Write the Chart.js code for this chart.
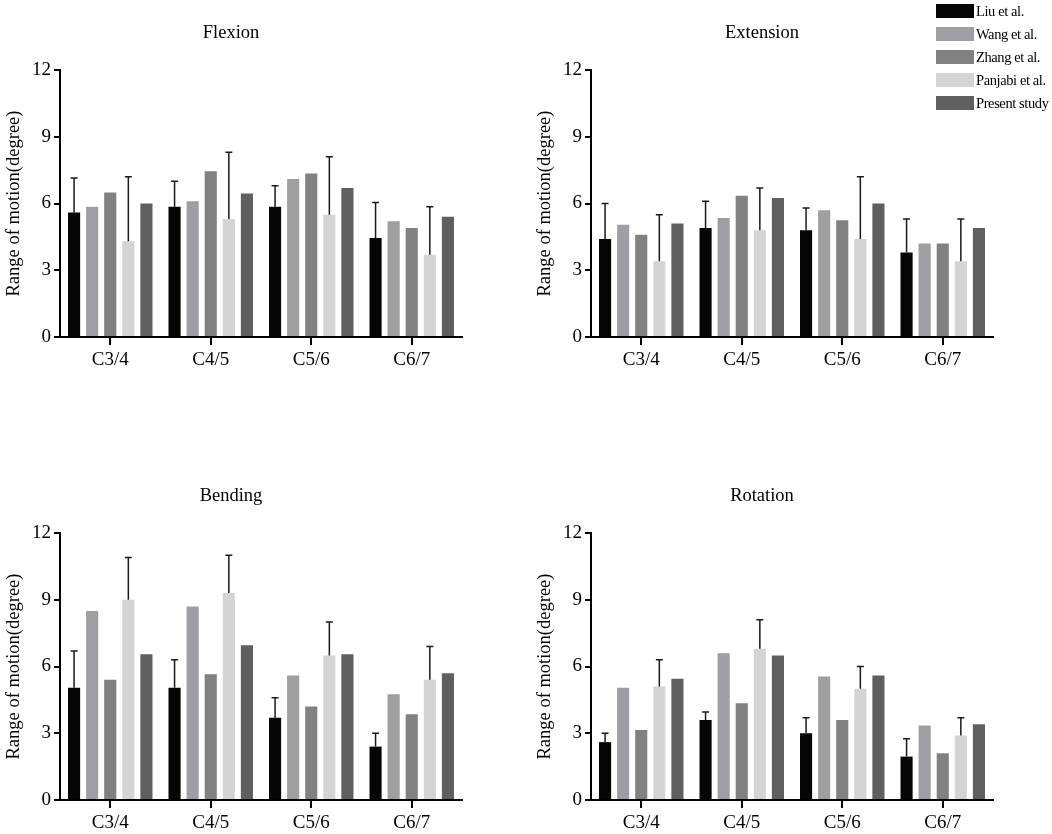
<!DOCTYPE html>
<html>
<head>
<meta charset="utf-8">
<script src="https://cdn.jsdelivr.net/npm/chart.js@4.4.1/dist/chart.umd.min.js"></script>
<style>
    body { margin: 0; background: #fff; width: 1052px; height: 834px; position: relative; overflow: hidden; }
    .panel { position: absolute; width: 472px; height: 372px; }
    #legend { position: absolute; left: 936px; top: 4px; font-family: "Liberation Serif", serif; font-size: 14.5px; letter-spacing: -0.4px; color: #000; white-space: nowrap; }
    .row { height: 23px; display: flex; align-items: flex-start; }
    .box { width: 38px; height: 14px; margin-right: 2px; flex: none; }
    .row span { line-height: 14px; }
</style>
</head>
<body>
<div class="panel" style="left:0;top:0"><canvas id="flexion"></canvas></div>
<div class="panel" style="left:531px;top:0"><canvas id="extension"></canvas></div>
<div class="panel" style="left:0;top:463px"><canvas id="bending"></canvas></div>
<div class="panel" style="left:531px;top:463px"><canvas id="rotation"></canvas></div>
<div id="legend"></div>
<script>
const levels = ["C3/4", "C4/5", "C5/6", "C6/7"];
const studies = ["Liu et al.", "Wang et al.", "Zhang et al.", "Panjabi et al.", "Present study"];
const colors = ["#050505", "#9f9fa3", "#818181", "#d4d4d4", "#5f5f5f"];
const yTicks = [0, 3, 6, 9, 12];

// values per study, order: C3/4, C4/5, C5/6, C6/7
const flexionLiu = [5.6, 5.85, 5.85, 4.45];
const flexionWang = [5.85, 6.1, 7.1, 5.2];
const flexionZhang = [6.5, 7.45, 7.35, 4.9];
const flexionPanjabi = [4.3, 5.3, 5.5, 3.7];
const flexionPresent = [6.0, 6.45, 6.7, 5.4];
const flexionLiuSd = [1.55, 1.15, 0.95, 1.6];
const flexionPanjabiSd = [2.9, 3.0, 2.6, 2.15];

const extensionLiu = [4.4, 4.9, 4.8, 3.8];
const extensionWang = [5.05, 5.35, 5.7, 4.2];
const extensionZhang = [4.6, 6.35, 5.25, 4.2];
const extensionPanjabi = [3.4, 4.8, 4.4, 3.4];
const extensionPresent = [5.1, 6.25, 6.0, 4.9];
const extensionLiuSd = [1.6, 1.2, 1.0, 1.5];
const extensionPanjabiSd = [2.1, 1.9, 2.8, 1.9];

const bendingLiu = [5.05, 5.05, 3.7, 2.4];
const bendingWang = [8.5, 8.7, 5.6, 4.75];
const bendingZhang = [5.4, 5.65, 4.2, 3.85];
const bendingPanjabi = [9.0, 9.3, 6.5, 5.4];
const bendingPresent = [6.55, 6.95, 6.55, 5.7];
const bendingLiuSd = [1.65, 1.25, 0.9, 0.6];
const bendingPanjabiSd = [1.9, 1.7, 1.5, 1.5];

const rotationLiu = [2.6, 3.6, 3.0, 1.95];
const rotationWang = [5.05, 6.6, 5.55, 3.35];
const rotationZhang = [3.15, 4.35, 3.6, 2.1];
const rotationPanjabi = [5.1, 6.8, 5.0, 2.9];
const rotationPresent = [5.45, 6.5, 5.6, 3.4];
const rotationLiuSd = [0.4, 0.35, 0.7, 0.8];
const rotationPanjabiSd = [1.2, 1.3, 1.0, 0.8];

const serif = "'Liberation Serif', 'Times New Roman', serif";

// upward-only error bars (mean + SD), like the GraphPad original
const errorBars = {
    id: "errorBars",
    afterDatasetsDraw: function (chart) {
        const ctx = chart.ctx;
        const y = chart.scales.y;
        chart.data.datasets.forEach(function (ds, i) {
            if (!ds.sd) {
                return;
            }
            chart.getDatasetMeta(i).data.forEach(function (bar, j) {
                const top = y.getPixelForValue(ds.data[j] + ds.sd[j]);
                ctx.save();
                ctx.strokeStyle = "#1a1a1a";
                ctx.lineWidth = 1.5;
                ctx.beginPath();
                ctx.moveTo(bar.x, bar.y);
                ctx.lineTo(bar.x, top);
                ctx.moveTo(bar.x - 3.5, top);
                ctx.lineTo(bar.x + 3.5, top);
                ctx.stroke();
                ctx.restore();
            });
        });
    }
};

function renderPanel(canvasId, title, series, liuSd, panjabiSd) {
    const datasets = series.map(function (values, i) {
        return {
            label: studies[i],
            data: values,
            backgroundColor: colors[i],
            borderWidth: 0,
            barPercentage: 0.67,
            categoryPercentage: 0.9,
            sd: i === 0 ? liuSd : (i === 3 ? panjabiSd : null)
        };
    });

    new Chart(document.getElementById(canvasId), {
        type: "bar",
        data: { labels: levels, datasets: datasets },
        plugins: [errorBars],
        options: {
            responsive: true,
            maintainAspectRatio: false,
            animation: false,
            layout: { padding: { top: 0, left: 0, right: 10, bottom: 0 } },
            plugins: {
                legend: { display: false },
                tooltip: { enabled: false },
                title: {
                    display: true,
                    text: title,
                    color: "#000",
                    font: { family: serif, size: 18.5, weight: "normal" },
                    padding: { top: 22, bottom: 25.8 }
                }
            },
            scales: {
                x: {
                    afterFit: function (scale) { scale.height = 35; },
                    border: { color: "#000", width: 2 },
                    grid: { drawOnChartArea: false, offset: false, color: "#000", lineWidth: 2, tickLength: 8 },
                    ticks: { color: "#000", padding: 4, font: { family: serif, size: 19 } }
                },
                y: {
                    min: 0,
                    max: 12,
                    afterFit: function (scale) { scale.width = 60; },
                    afterBuildTicks: function (scale) {
                        scale.ticks = yTicks.map(function (v) { return { value: v }; });
                    },
                    border: { color: "#000", width: 2 },
                    grid: { drawOnChartArea: false, color: "#000", lineWidth: 2, tickLength: 6 },
                    ticks: { color: "#000", padding: 3, font: { family: serif, size: 19 } },
                    title: {
                        display: true,
                        text: "Range of motion(degree)",
                        color: "#000",
                        font: { family: serif, size: 18.5 },
                        padding: { top: 3, bottom: 0 }
                    }
                }
            }
        }
    });
}

renderPanel("flexion", "Flexion",
    [flexionLiu, flexionWang, flexionZhang, flexionPanjabi, flexionPresent], flexionLiuSd, flexionPanjabiSd);
renderPanel("extension", "Extension",
    [extensionLiu, extensionWang, extensionZhang, extensionPanjabi, extensionPresent], extensionLiuSd, extensionPanjabiSd);
renderPanel("bending", "Bending",
    [bendingLiu, bendingWang, bendingZhang, bendingPanjabi, bendingPresent], bendingLiuSd, bendingPanjabiSd);
renderPanel("rotation", "Rotation",
    [rotationLiu, rotationWang, rotationZhang, rotationPanjabi, rotationPresent], rotationLiuSd, rotationPanjabiSd);

// shared legend, top right
const legend = document.getElementById("legend");
studies.forEach(function (name, i) {
    const row = document.createElement("div");
    row.className = "row";
    row.innerHTML = '<div class="box" style="background:' + colors[i] + '"></div><span>' + name + "</span>";
    legend.appendChild(row);
});
</script>
</body>
</html>
